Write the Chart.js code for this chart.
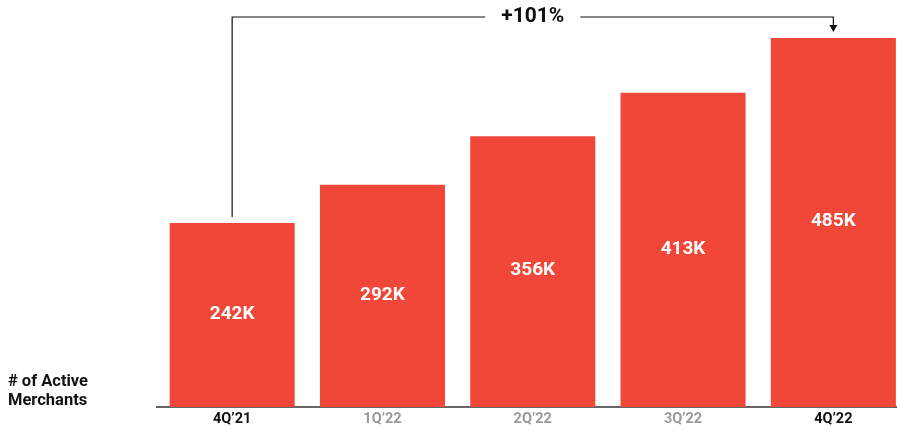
<!DOCTYPE html>
<html>
<head>
<meta charset="utf-8">
<script src="https://cdn.jsdelivr.net/npm/chart.js@4/dist/chart.umd.min.js"></script>
<style>
  html, body { margin: 0; padding: 0; background: #fff; overflow: hidden; }
  #wrap { width: 910px; height: 430px; }
</style>
</head>
<body>
<div id="wrap"><canvas id="chart" width="910" height="430"></canvas></div>
<script>
const quarters = ['4Q’21', '1Q’22', '2Q’22', '3Q’22', '4Q’22'];
const merchants = [242, 292, 356, 413, 485];
const valueLabels = ['242K', '292K', '356K', '413K', '485K'];
const growthLabel = '+101%';
const axisTitle = ['# of Active', 'Merchants'];

const RED = '#F04738';
const FONT = 'Roboto, "Noto Sans", sans-serif';

// white value inside each bar
const barLabels = {
  id: 'barLabels',
  afterDatasetsDraw(chart) {
    const { ctx } = chart;
    const meta = chart.getDatasetMeta(0);
    ctx.save();
    ctx.fillStyle = '#fff';
    ctx.font = `bold 19px ${FONT}`;
    ctx.textAlign = 'center';
    ctx.textBaseline = 'middle';
    meta.data.forEach((bar, i) => {
      const mid = (bar.y + bar.base) / 2;
      ctx.fillText(valueLabels[i], bar.x, mid - 1);
    });
    ctx.restore();
  },
};

// bracket from first to last bar, growth text, left side title
const extras = {
  id: 'extras',
  afterDraw(chart) {
    const { ctx } = chart;
    const meta = chart.getDatasetMeta(0);
    const first = meta.data[0];
    const last = meta.data[meta.data.length - 1];
    const topY = 17;
    const midX = (first.x + last.x) / 2;

    ctx.save();
    ctx.font = `bold 21px ${FONT}`;
    const gap = ctx.measureText(growthLabel).width / 2 + 16;

    ctx.strokeStyle = '#111';
    ctx.lineWidth = 1.2;
    ctx.beginPath();
    ctx.moveTo(first.x, first.y - 6);
    ctx.lineTo(first.x, topY);
    ctx.lineTo(midX - gap, topY);
    ctx.moveTo(midX + gap, topY);
    ctx.lineTo(last.x, topY);
    ctx.lineTo(last.x, last.y - 12);
    ctx.stroke();

    ctx.fillStyle = '#111';
    ctx.beginPath();
    ctx.moveTo(last.x - 4, last.y - 13);
    ctx.lineTo(last.x + 4, last.y - 13);
    ctx.lineTo(last.x, last.y - 6);
    ctx.closePath();
    ctx.fill();

    ctx.textAlign = 'center';
    ctx.textBaseline = 'middle';
    ctx.fillText(growthLabel, midX, topY);

    ctx.font = `bold 16.5px ${FONT}`;
    ctx.textAlign = 'left';
    axisTitle.forEach((line, i) => ctx.fillText(line, 8, 382 + i * 19));
    ctx.restore();
  },
};

new Chart(document.getElementById('chart'), {
  type: 'bar',
  data: {
    labels: quarters,
    datasets: [{
      data: merchants,
      backgroundColor: RED,
      borderWidth: 0,
      categoryPercentage: 1,
      barPercentage: 0.832,
    }],
  },
  options: {
    responsive: false,
    devicePixelRatio: 1,
    animation: false,
    layout: { padding: { left: 157, right: 1.5, top: 38, bottom: 0 } },
    plugins: { legend: { display: false }, tooltip: { enabled: false } },
    scales: {
      x: {
        grid: { display: false, drawTicks: false },
        border: { color: '#666', width: 2 },
        afterFit: scale => { scale.height = 23; },
        ticks: {
          padding: 4,
          font: { family: FONT, weight: 'bold', size: 14.5 },
          color: ctx => (ctx.index === 0 || ctx.index === quarters.length - 1) ? '#111' : '#9a9a9a',
        },
      },
      y: { display: false, min: 0, max: 485 },
    },
  },
  plugins: [barLabels, extras],
});
</script>
</body>
</html>
